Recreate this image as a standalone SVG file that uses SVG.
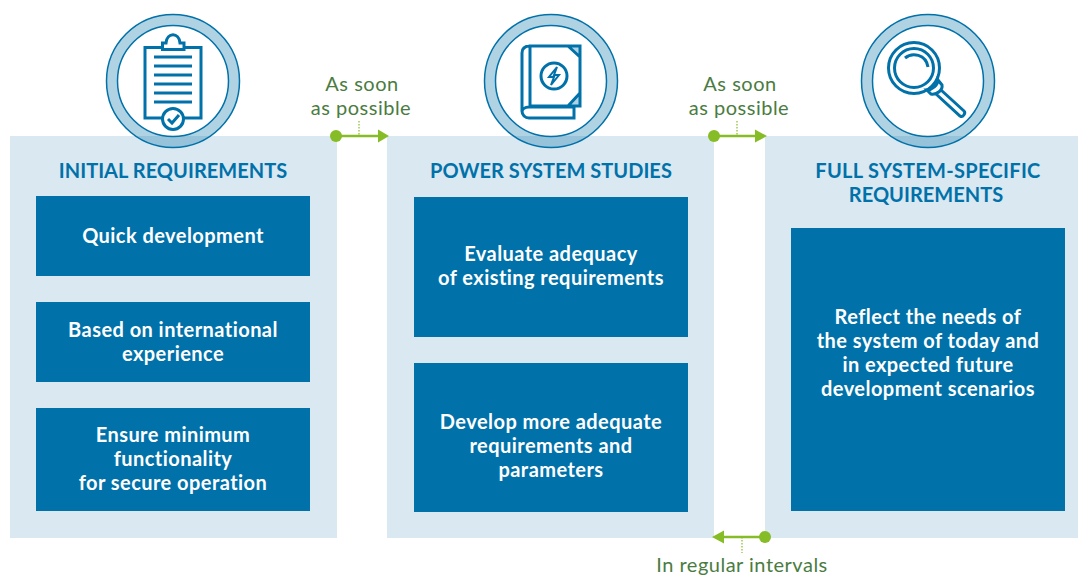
<svg xmlns="http://www.w3.org/2000/svg" width="1078" height="576" viewBox="0 0 1078 576">
<style>
text{font-family:"Lato","Liberation Sans",sans-serif;text-anchor:middle}
.panel{fill:#d9e8f1}
.box{fill:#0071a9}
.title{font-size:20px;font-weight:700;fill:#0071a9;letter-spacing:.03px}
.wide{letter-spacing:.3px}
.body{font-size:20px;font-weight:700;fill:#fff;letter-spacing:.45px}
.lab{font-size:20px;fill:#4a7c3f;letter-spacing:.5px}
.band{fill:#0071a9;fill-opacity:.31;stroke:#0071a9;stroke-width:1.5}
.inner{fill:#fff;stroke:#0071a9;stroke-width:1.5}
.ic{fill:none;stroke:#0071a9;stroke-width:3}
.icf{fill:#b0d2e5;stroke:none}
.ln{stroke:#86bc25;stroke-width:2.6;fill:none}
.dot{stroke:#86bc25;stroke-width:1.2;stroke-dasharray:1.5 1.5;fill:none}
.gf{fill:#86bc25}
</style>
<g id="node-initial">
<rect class="panel" x="10" y="136" width="327" height="402"/>
<text class="title" x="173" y="178">INITIAL REQUIREMENTS</text>
<rect class="box" x="36" y="196" width="274" height="80"/>
<text class="body" x="173" y="243">Quick development</text>
<rect class="box" x="36" y="302" width="274" height="80"/>
<text class="body" x="173" y="337">Based on international</text>
<text class="body" x="173" y="361">experience</text>
<rect class="box" x="36" y="408" width="274" height="103"/>
<text class="body" x="173" y="442">Ensure minimum</text>
<text class="body" x="173" y="466">functionality</text>
<text class="body" x="173" y="490">for secure operation</text>
<circle class="band" cx="173" cy="81" r="66.5"/>
<circle class="inner" cx="173" cy="81" r="55.5"/>
<path class="ic" d="M162 47.500H145V118H162M184 118H201V47.500H184M162.500 49.500V43H166C167 32 179 32 180 43H184V49.500Z"/>
<path class="ic" d="M154 57H192M154 66H192M154 75H192M154 84H192M154 93H192M154 102H192"/>
<circle class="ic" cx="173" cy="119" r="10.500"/>
<path class="ic" d="M168 119L172 123L179 115"/>
</g>
<g id="node-studies">
<rect class="panel" x="387" y="136" width="327" height="402"/>
<text class="title" x="551" y="178">POWER SYSTEM STUDIES</text>
<rect class="box" x="414" y="197" width="274" height="140"/>
<text class="body" x="551" y="261">Evaluate adequacy</text>
<text class="body" x="551" y="285">of existing requirements</text>
<rect class="box" x="414" y="363" width="274" height="149"/>
<text class="body" x="551" y="429">Develop more adequate</text>
<text class="body" x="551" y="453">requirements and</text>
<text class="body" x="551" y="477">parameters</text>
<circle class="band" cx="551" cy="81" r="66.5"/>
<circle class="inner" cx="551" cy="81" r="55.5"/>
<path class="icf" d="M568 46H580V57ZM580 93V105H568Z"/>
<path class="ic" d="M530 46H580V106H530ZM522 53C522 48 525 46 530 46M522 53V111C522 115 525 118 529 118H574V107H529C525 107 522 109 522 112M568 46L580 57M580 93L568 106"/>
<circle class="ic" cx="554" cy="76" r="13"/>
<path d="M557 67L549 77H554L551 85L559 75H554Z" fill="none" stroke="#0071a9" stroke-width="2"/>
</g>
<g id="node-full">
<rect class="panel" x="765" y="136" width="313" height="402"/>
<text class="title wide" x="928" y="178">FULL SYSTEM-SPECIFIC</text>
<text class="title" x="926" y="202">REQUIREMENTS</text>
<rect class="box" x="791" y="228" width="274" height="283"/>
<text class="body" x="928" y="324">Reflect the needs of</text>
<text class="body" x="928" y="348">the system of today and</text>
<text class="body" x="928" y="372">in expected future</text>
<text class="body" x="928" y="396">development scenarios</text>
<circle class="band" cx="928" cy="81" r="66.5"/>
<circle class="inner" cx="928" cy="81" r="55.5"/>
<circle class="ic" cx="914" cy="68" r="25.500"/>
<circle class="ic" cx="914" cy="68" r="19.500"/>
<path class="ic" d="M905 58C912 52 926 54 928 67"/>
<path class="ic" d="M927 90C932 90 938 85 938 80L942 85C943 90 937 95 931 94ZM941 90L964 111C966 113 963 118 960 116L936 94"/>
</g>
<g id="connectors">
<path class="ln" d="M336 136H378"/><circle class="gf" cx="336" cy="136" r="6"/><path class="gf" d="M378 129.500L389 136L378 142.500Z"/><path class="dot" d="M359 121V136"/>
<path class="ln" d="M714 136H756"/><circle class="gf" cx="714" cy="136" r="6"/><path class="gf" d="M755 129.500L767 136L755 142.500Z"/><path class="dot" d="M737 121V136"/>
<path class="ln" d="M765 537H722"/><circle class="gf" cx="765" cy="537" r="6"/><path class="gf" d="M724 530.500L712 537L724 543.500Z"/><path class="dot" d="M742 537V553"/>
</g>
<g id="labels">
<text class="lab" x="362" y="91">As soon</text>
<text class="lab" x="361" y="115">as possible</text>
<text class="lab" x="740" y="91">As soon</text>
<text class="lab" x="739" y="115">as possible</text>
<text class="lab" x="742" y="572">In regular intervals</text>
</g>
</svg>
